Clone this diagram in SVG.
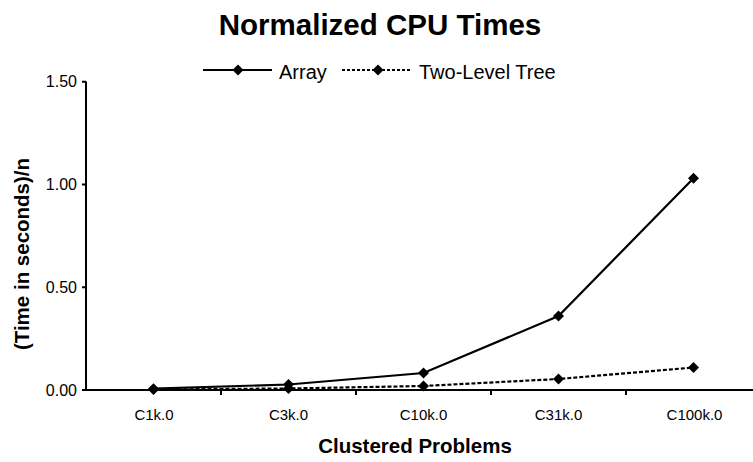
<svg xmlns="http://www.w3.org/2000/svg" width="753" height="462" viewBox="0 0 753 462">
<defs>
<style>
text{font-family:"Liberation Sans",Arial,sans-serif;fill:#000}
.title{font-size:29.5px;font-weight:bold}
.axt{font-size:20.5px;font-weight:bold}
.tick{font-size:15px}
.ytick{font-size:16px;text-anchor:end}
.leg{font-size:20px}
.axis{stroke:#000;stroke-width:2;fill:none}
.s1{stroke:#000;stroke-width:2.2;fill:none}
.s2{stroke:#000;stroke-width:2.2;fill:none;stroke-dasharray:4 2}
.s2l{stroke:#000;stroke-width:2;fill:none;stroke-dasharray:3 2}
</style>
<path id="dm" d="M0,-5.5L5.5,0L0,5.5L-5.5,0Z" fill="#000"/>
</defs>
<rect width="753" height="462" fill="#fff"/>
<g id="title"><text class="title" x="380" y="34.5" text-anchor="middle">Normalized CPU Times</text></g>
<g id="legend">
<line class="s1" x1="203" y1="70" x2="272" y2="70"/>
<use href="#dm" x="238" y="70"/>
<text class="leg" x="279" y="79">Array</text>
<line class="s2l" x1="342" y1="70" x2="412" y2="70"/>
<use href="#dm" x="378" y="70"/>
<text class="leg" x="419" y="79">Two-Level Tree</text>
</g>
<g id="axes">
<path class="axis" d="M86,81.5V391M82,81.75H86M82,184.5H86M82,287.25H86M82,390H86"/>
<path class="axis" d="M85,390H753M221,390V395M356,390V395M491,390V395M626,390V395"/>
<text class="ytick" x="77" y="87">1.50</text>
<text class="ytick" x="77" y="190">1.00</text>
<text class="ytick" x="77" y="293">0.50</text>
<text class="ytick" x="77" y="396">0.00</text>
<g class="tick" text-anchor="middle">
<text x="154" y="419.5">C1k.0</text>
<text x="288.5" y="419.5">C3k.0</text>
<text x="423.5" y="419.5">C10k.0</text>
<text x="558.5" y="419.5">C31k.0</text>
<text x="694.5" y="419.5">C100k.0</text>
</g>
<text class="axt" x="415" y="453" text-anchor="middle">Clustered Problems</text>
<text class="axt" transform="translate(29,254) rotate(-90)" text-anchor="middle">(Time in seconds)/n</text>
</g>
<g id="connectors">
<polyline class="s2" points="153.5,389.5 288.5,388.5 423.5,386 558.5,379 693.5,367.5"/>
<polyline class="s1" points="153.5,388.7 288.5,384.5 423.5,373 558.5,316 693.5,178.3"/>
</g>
<g id="series-tree">
<use href="#dm" x="153.5" y="389.5"/>
<use href="#dm" x="288.5" y="388.5"/>
<use href="#dm" x="423.5" y="386"/>
<use href="#dm" x="558.5" y="379"/>
<use href="#dm" x="693.5" y="367.5"/>
</g>
<g id="series-array">
<use href="#dm" x="153.5" y="388.7"/>
<use href="#dm" x="288.5" y="384.5"/>
<use href="#dm" x="423.5" y="373"/>
<use href="#dm" x="558.5" y="316"/>
<use href="#dm" x="693.5" y="178.3"/>
</g>
</svg>
